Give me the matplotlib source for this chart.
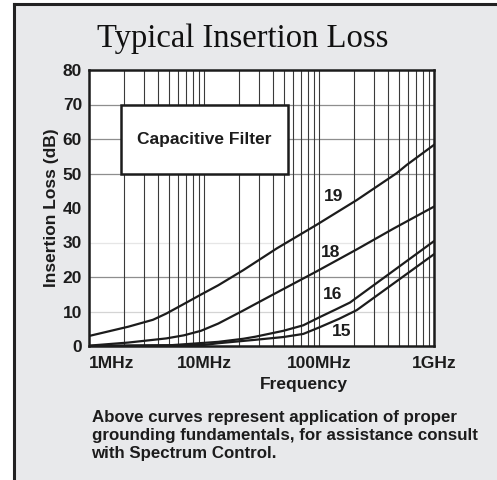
"""Typical insertion loss curves of the capacitive filter family."""

import numpy as np
import matplotlib.pyplot as plt
from matplotlib.patches import Rectangle
from matplotlib.lines import Line2D

# Frequencies in MHz and insertion loss in dB
freq_19 = [1, 2.2, 3.6, 4.7, 6.7, 9.4, 13.3, 22, 43, 95, 213, 474, 580, 1000]
loss_19 = [2.9, 5.6, 7.6, 9.4, 12.2, 14.9, 17.6, 22.0, 28.3, 35.1, 42.3, 50.1, 52.5, 58.3]

freq_18 = [1, 2.2, 4.7, 6.7, 9.4, 13.3, 22, 27.7, 43, 95, 213, 443, 1000]
loss_18 = [0.1, 1.0, 2.2, 3.1, 4.4, 6.5, 10.3, 12.1, 15.5, 21.6, 28.0, 34.0, 40.4]

freq_16 = [1, 5, 13.3, 22, 28, 49, 73, 99, 140, 186, 1000]
loss_16 = [0.0, 0.2, 1.2, 2.1, 2.7, 4.4, 6.0, 8.2, 10.6, 12.6, 30.4]

freq_15 = [1, 10, 13.3, 28, 49, 73, 99, 150, 213, 1000]
loss_15 = [0.0, 0.3, 0.8, 1.8, 2.6, 3.5, 5.3, 7.9, 10.4, 26.6]

curve_names = ['19', '18', '16', '15']
# where each curve number is written (MHz, dB)
label_freq = [133, 125, 131, 157]
label_loss = [43.3, 27.0, 14.8, 4.2]

x_ticks = [1e6, 1e7, 1e8, 1e9]
x_tick_labels = ['1MHz', '10MHz', '100MHz', '1GHz']
y_ticks = [0, 10, 20, 30, 40, 50, 60, 70, 80]

ink = '#1c1c1c'
sans = 'Liberation Sans'

fig = plt.figure(figsize=(4.97, 4.80), dpi=100)
fig.patch.set_facecolor('white')

# grey panel with dark left and top border
fig.patches.append(Rectangle((14 / 497, 0), 1, 1 - 4 / 480, transform=fig.transFigure,
                             facecolor='#e8e9eb', edgecolor='none', zorder=-10))
fig.lines.append(Line2D([14 / 497, 14 / 497], [0, 1 - 4 / 480], transform=fig.transFigure,
                        color='#222222', lw=2.2, zorder=-5))
fig.lines.append(Line2D([14 / 497, 1], [1 - 4 / 480, 1 - 4 / 480], transform=fig.transFigure,
                        color='#222222', lw=2.2, zorder=-5))

ax = fig.add_axes([89 / 497, 1 - 346 / 480, 345 / 497, 276 / 480])
ax.set_zorder(2)
ax.set_facecolor('white')
ax.set_xscale('log')
ax.set_xlim(1e6, 1e9)
ax.set_ylim(0, 80)

# vertical grid (dark) and horizontal grid (grey, partly faded as in the print)
ax.grid(which='both', axis='x', color='#3a3a3a', lw=0.8, zorder=1)
h_shades = {10: '#d4d4d4', 20: '#8e8e8e', 30: '#e6e6e6', 50: '#8e8e8e', 60: '#8e8e8e', 70: '#8e8e8e'}
for level, shade in h_shades.items():
    ax.axhline(level, color=shade, lw=0.9, zorder=1)

for f, l in [(freq_19, loss_19), (freq_18, loss_18), (freq_16, loss_16), (freq_15, loss_15)]:
    ax.plot(np.array(f) * 1e6, l, color=ink, lw=1.6, zorder=4, solid_joinstyle='round')

for name, fx, ly in zip(curve_names, label_freq, label_loss):
    ax.text(fx * 1e6, ly, name, fontsize=12.5, fontweight='bold', family=sans,
            color=ink, ha='center', va='center', zorder=5)

# the legend-like box
ax.add_patch(Rectangle((1.89e6, 50), 54e6 - 1.89e6, 20, facecolor='white',
                       edgecolor=ink, lw=1.8, zorder=3))
ax.text(10.1e6, 59.8, 'Capacitive Filter', fontsize=12.5, fontweight='bold', family=sans,
        color=ink, ha='center', va='center', zorder=5)

ax.set_xticks(x_ticks)
ax.set_xticklabels(x_tick_labels)
ax.set_yticks(y_ticks)
ax.tick_params(which='both', length=0)
ax.tick_params(axis='x', pad=7)
ax.tick_params(axis='y', pad=5)
for lab in ax.get_xticklabels() + ax.get_yticklabels():
    lab.set_fontsize(12.5)
    lab.set_fontweight('bold')
    lab.set_family(sans)
    lab.set_color(ink)
ax.get_xticklabels()[0].set_horizontalalignment('left')

for side in ax.spines.values():
    side.set_linewidth(1.8)
    side.set_color(ink)
    side.set_zorder(6)

fig.text(52 / 497, 1 - 208 / 480, 'Insertion Loss (dB)', rotation=90, fontsize=12.5,
         fontweight='bold', family=sans, color=ink, ha='center', va='center')
fig.text(303.5 / 497, 1 - 385 / 480, 'Frequency', fontsize=12.5, fontweight='bold',
         family=sans, color=ink, ha='center', va='center')

fig.text(243 / 497, 1 - 47 / 480, 'Typical Insertion Loss', fontsize=23.5,
         family='Liberation Serif', color='#111111', ha='center', va='baseline')

fig.text(91.5 / 497, 1 - 410 / 480,
         'Above curves represent application of proper\n'
         'grounding fundamentals, for assistance consult\n'
         'with Spectrum Control.',
         fontsize=12.2, fontweight='bold', family=sans, color=ink,
         ha='left', va='top', linespacing=1.25)

fig.savefig('out.png', dpi=100)
